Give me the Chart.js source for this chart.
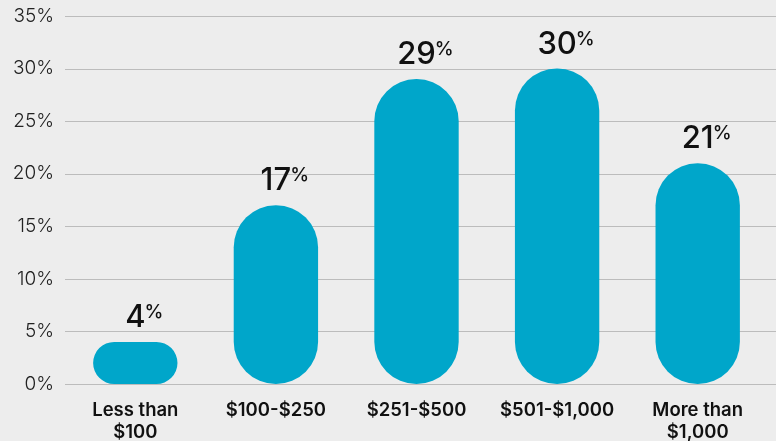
<!DOCTYPE html>
<html>
<head>
<meta charset="utf-8">
<script src="https://cdn.jsdelivr.net/npm/chart.js@4/dist/chart.umd.min.js"></script>
<style>
  html, body { margin: 0; padding: 0; background: #ededed; }
  #wrap { width: 776px; height: 441px; position: relative; }
</style>
</head>
<body>
<div id="wrap"><canvas id="spendChart"></canvas></div>
<script>
const categories = [
  ['Less than', '$100'],
  '$100-$250',
  '$251-$500',
  '$501-$1,000',
  ['More than', '$1,000']
];
const shares = [4, 17, 29, 30, 21];
const yTicks = [0, 5, 10, 15, 20, 25, 30, 35];

const barColor = '#00a6ca';
const gridColor = '#bcbcbc';

// horizontal rules run past the plot to the right edge
const gridLines = {
  id: 'gridLines',
  beforeDatasetsDraw(chart) {
    const ctx = chart.ctx;
    const y = chart.scales.y;
    ctx.save();
    ctx.strokeStyle = gridColor;
    ctx.lineWidth = 1.2;
    yTicks.forEach(v => {
      const py = Math.round(y.getPixelForValue(v)) + 0.5;
      ctx.beginPath();
      ctx.moveTo(chart.chartArea.left, py);
      ctx.lineTo(chart.width, py);
      ctx.stroke();
    });
    ctx.restore();
  }
};

// value above each bar, with a small raised percent sign
const valueLabels = {
  id: 'valueLabels',
  afterDatasetsDraw(chart) {
    const ctx = chart.ctx;
    const meta = chart.getDatasetMeta(0);
    ctx.save();
    ctx.fillStyle = '#111';
    ctx.textBaseline = 'alphabetic';
    meta.data.forEach((bar, i) => {
      const txt = String(shares[i]);
      const base = bar.y - 15;
      ctx.font = '500 31px Inter';
      const w = ctx.measureText(txt).width;
      ctx.textAlign = 'center';
      ctx.fillText(txt, bar.x, base);
      ctx.font = '500 19px Inter';
      ctx.textAlign = 'left';
      ctx.fillText('%', bar.x + w / 2 - 1, base - 9);
    });
    ctx.restore();
  }
};

new Chart(document.getElementById('spendChart'), {
  type: 'bar',
  data: {
    labels: categories,
    datasets: [{
      data: shares,
      backgroundColor: barColor,
      borderRadius: 42,
      borderSkipped: false,
      barPercentage: 0.6,
      categoryPercentage: 1
    }]
  },
  options: {
    responsive: true,
    maintainAspectRatio: false,
    animation: false,
    layout: { padding: { top: 16, right: 8, left: 0, bottom: 0 } },
    plugins: { legend: { display: false }, tooltip: { enabled: false } },
    scales: {
      x: {
        grid: { display: false },
        border: { display: false },
        ticks: {
          color: '#111',
          font: { family: 'Inter', size: 18.5, weight: '600' },
          padding: 7,
          maxRotation: 0,
          autoSkip: false
        },
        afterFit(scale) { scale.height = 57; }
      },
      y: {
        min: 0,
        max: 35,
        grid: { display: false },
        border: { display: false },
        ticks: {
          stepSize: 5,
          color: '#222',
          padding: 3,
          font: { family: 'Inter', size: 19, weight: '300' },
          callback: v => v + '%'
        },
        afterFit(scale) { scale.width = 65; }
      }
    }
  },
  plugins: [gridLines, valueLabels]
});
</script>
</body>
</html>
